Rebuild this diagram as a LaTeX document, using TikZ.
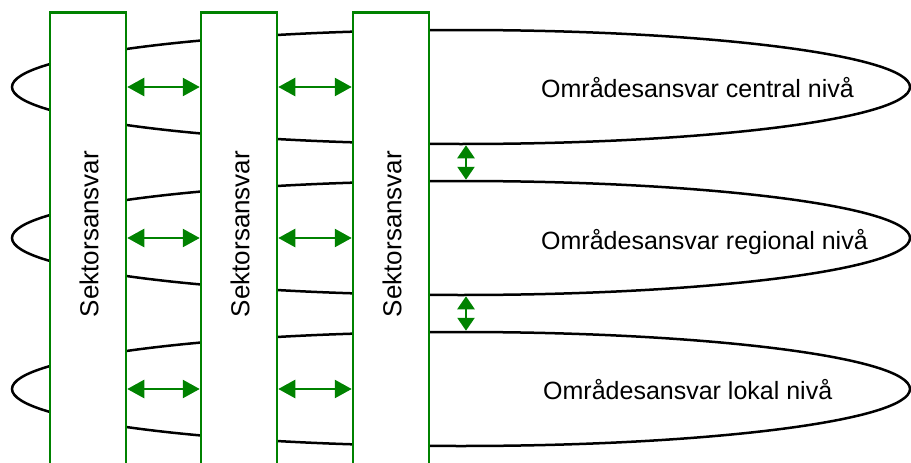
\documentclass[tikz,border=0pt]{standalone}
\usepackage{fontspec}
\setmainfont{Liberation Sans}
\usetikzlibrary{shapes.geometric,arrows.meta}
\definecolor{sgreen}{RGB}{0,130,0}
\begin{document}
\begin{tikzpicture}[x=1pt,y=-1pt,
  ellip/.style={draw=black,line width=2.5pt,ellipse,minimum width=898pt,minimum height=114pt,inner sep=0pt},
  sektor/.style={draw=sgreen,fill=white,line width=2.5pt,minimum width=76pt,minimum height=470pt,inner sep=0pt,anchor=north},
  lbl/.style={font=\fontsize{25}{30}\selectfont,anchor=west,inner sep=0pt},
  vlbl/.style={font=\fontsize{26}{30}\selectfont,rotate=90,inner sep=0pt},
  dbl/.style={draw=sgreen,line width=2.5pt,{Triangle[length=17pt,width=18pt]}-{Triangle[length=17pt,width=18pt]}},
  dblv/.style={draw=sgreen,line width=2.5pt,{Triangle[length=13pt,width=17pt]}-{Triangle[length=13pt,width=17pt]}}]
\clip (0,0) rectangle (911,463);
\useasboundingbox (0,0) rectangle (911,463);
\node[ellip] (e1) at (461,87) {};
\node[ellip] (e2) at (461,238) {};
\node[ellip] (e3) at (461,389) {};
\node[lbl] (l1) at (541,88) {Områdesansvar central nivå};
\node[lbl] (l2) at (541,242) {Områdesansvar regional nivå};
\node[lbl] (l3) at (543,390) {Områdesansvar lokal nivå};
\node[sektor] (s1) at (88,11) {};
\node[sektor] (s2) at (239,11) {};
\node[sektor] (s3) at (391,11) {};
\node[vlbl] (t1) at (89,234) {Sektorsansvar};
\node[vlbl] (t2) at (240,234) {Sektorsansvar};
\node[vlbl] (t3) at (392,234) {Sektorsansvar};
\foreach \e in {e1,e2,e3}{
  \draw[dbl] (s1.east |- \e) -- (s2.west |- \e);
  \draw[dbl] (s2.east |- \e) -- (s3.west |- \e);
}
\draw[dblv] ([xshift=5pt]e1.south) -- ([xshift=5pt]e2.north);
\draw[dblv] ([xshift=5pt]e2.south) -- ([xshift=5pt]e3.north);
\end{tikzpicture}
\end{document}
